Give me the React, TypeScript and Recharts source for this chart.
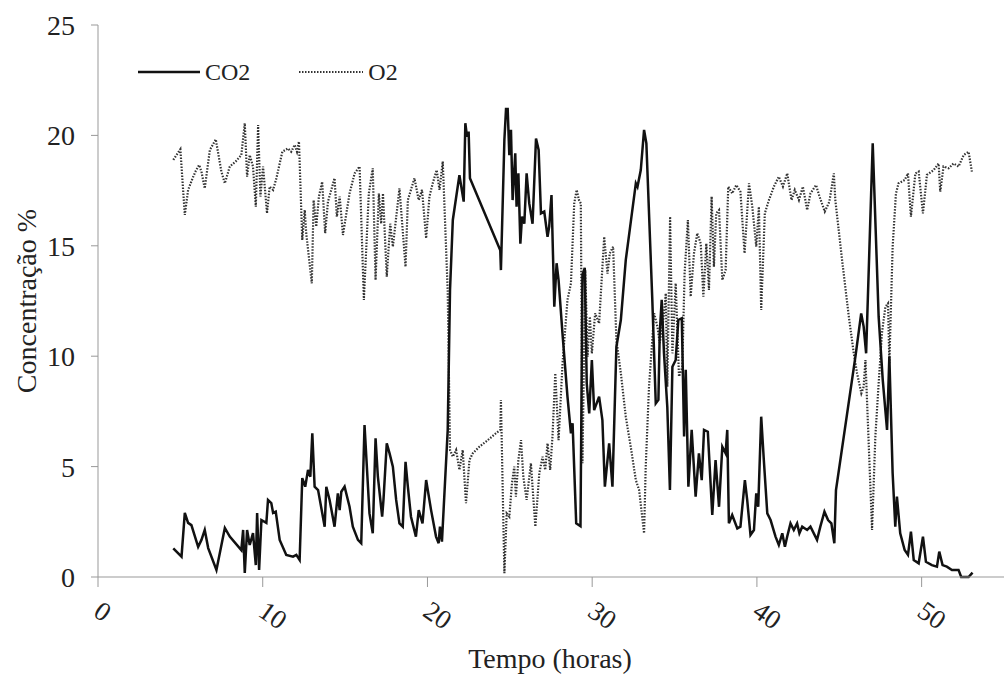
import { LineChart, Line, XAxis, YAxis, Label } from 'recharts';

// hours / % for each gas
const co2Hours = [
  4.57, 5.07, 5.27, 5.47, 5.67, 6.08, 6.28, 6.48, 6.69, 7.19, 7.7, 8.0, 8.7, 8.81, 8.91, 9.05, 9.21, 9.41, 9.58, 9.66,
  9.78, 9.92, 10.22, 10.32, 10.52, 10.63, 10.79, 11.03, 11.43, 11.84, 12.04, 12.24, 12.4, 12.58, 12.75, 12.89, 13.01, 13.15, 13.36, 13.76,
  13.86, 14.06, 14.36, 14.56, 14.67, 14.77, 14.97, 15.27, 15.47, 15.78, 15.98, 16.18, 16.48, 16.68, 16.85, 16.99, 17.25, 17.33, 17.53, 17.7,
  17.9, 18.1, 18.3, 18.5, 18.67, 18.81, 19.0, 19.3, 19.47, 19.7, 19.92, 20.22, 20.52, 20.68, 20.76, 20.88, 21.23, 21.37, 21.54, 21.94,
  22.2, 22.3, 22.4, 22.5, 22.58, 24.42, 24.46, 24.67, 24.77, 24.87, 24.97, 25.07, 25.17, 25.33, 25.41, 25.52, 25.64, 25.74, 25.88, 26.02,
  26.18, 26.38, 26.59, 26.75, 26.89, 27.09, 27.29, 27.39, 27.53, 27.7, 27.84, 27.96, 28.2, 28.5, 28.71, 28.81, 29.03, 29.29, 29.41, 29.55,
  29.67, 29.82, 29.98, 30.12, 30.42, 30.62, 30.77, 31.03, 31.23, 31.47, 31.74, 32.04, 32.28, 32.65, 32.75, 32.95, 33.15, 33.29, 33.65, 33.86,
  34.02, 34.1, 34.22, 34.36, 34.56, 34.72, 34.87, 35.07, 35.23, 35.44, 35.58, 35.68, 35.84, 36.04, 36.28, 36.48, 36.65, 36.79, 37.02, 37.29,
  37.49, 37.7, 37.9, 38.1, 38.2, 38.3, 38.5, 38.81, 39.0, 39.27, 39.41, 39.61, 39.82, 39.96, 40.08, 40.26, 40.42, 40.63, 40.83, 41.13,
  41.33, 41.54, 41.7, 41.84, 42.04, 42.24, 42.44, 42.58, 42.75, 43.05, 43.25, 43.65, 43.85, 44.1, 44.32, 44.52, 44.7, 44.8, 45.98, 46.33,
  46.48, 46.63, 47.03, 47.39, 47.64, 47.9, 48.04, 48.24, 48.4, 48.5, 48.7, 48.97, 49.17, 49.35, 49.52, 49.82, 50.08, 50.26, 50.62, 50.93,
  51.07, 51.27, 51.53, 51.84, 52.24, 52.4, 52.85, 53.09,
];
const co2Values = [
  1.3, 0.92, 2.9, 2.45, 2.35, 1.37, 1.68, 2.13, 1.31, 0.32, 2.22, 1.83, 1.22, 2.13, 0.18, 2.13, 1.45, 1.99, 0.54, 2.9,
  0.32, 2.58, 2.45, 3.49, 3.35, 2.9, 2.96, 1.68, 1.0, 0.92, 1.0, 0.77, 4.48, 4.09, 4.85, 4.54, 6.51, 4.09, 3.94, 2.28,
  4.09, 3.49, 2.28, 3.79, 3.03, 3.86, 4.09, 3.18, 2.28, 1.68, 1.53, 6.88, 2.88, 1.98, 6.28, 4.54, 2.73, 3.49, 6.05, 5.6,
  5.0, 3.49, 2.43, 2.28, 5.22, 4.09, 2.73, 1.83, 3.03, 2.43, 4.39, 3.03, 1.83, 1.53, 2.28, 1.6, 6.66, 13.0, 16.17, 18.2,
  17.0, 20.55, 19.94, 20.17, 18.06, 14.8, 13.9, 19.79, 21.2, 21.2, 19.1, 20.25, 17.07, 19.19, 16.77, 18.28, 15.1, 16.32, 16.0, 18.28,
  16.92, 16.0, 19.86, 19.34, 16.47, 16.55, 15.41, 15.87, 17.3, 12.24, 14.21, 13.45, 11.0, 8.17, 6.51, 6.96, 2.43, 2.3, 13.7, 14.0,
  8.77, 7.41, 9.83, 7.56, 8.17, 7.11, 4.09, 6.05, 4.09, 10.43, 11.64, 14.36, 15.72, 17.83, 17.67, 18.43, 20.25, 19.64, 12.55, 7.86,
  8.02, 11.04, 12.55, 10.13, 7.71, 3.94, 9.52, 9.83, 11.64, 11.72, 6.36, 9.38, 4.09, 6.66, 3.64, 5.6, 4.39, 6.66, 6.58, 2.81,
  5.3, 3.18, 5.9, 5.6, 6.66, 2.43, 2.81, 2.2, 2.28, 4.39, 3.49, 1.9, 2.13, 3.79, 3.18, 7.26, 5.3, 2.88, 2.58, 1.83,
  1.45, 1.98, 1.37, 1.83, 2.43, 2.13, 2.43, 1.98, 2.28, 2.13, 2.28, 1.68, 2.28, 2.96, 2.58, 2.43, 1.53, 3.94, 9.98, 11.94,
  11.34, 10.13, 19.64, 11.79, 8.92, 6.66, 9.98, 4.7, 2.28, 3.64, 1.98, 1.22, 1.0, 2.05, 0.77, 0.62, 1.83, 0.69, 0.54, 0.47,
  1.15, 0.54, 0.47, 0.32, 0.32, 0.0, 0.0, 0.2,
];

const o2Hours = [
  4.57, 5.0, 5.27, 5.47, 5.78, 5.94, 6.14, 6.28, 6.48, 6.79, 7.15, 7.49, 7.7, 8.0, 8.36, 8.7, 8.91, 9.05, 9.21, 9.41,
  9.58, 9.72, 9.86, 10.02, 10.26, 10.42, 10.63, 10.83, 11.19, 11.53, 11.73, 11.94, 12.08, 12.2, 12.4, 12.55, 12.64, 12.98, 13.09, 13.25,
  13.41, 13.61, 13.79, 13.96, 14.36, 14.5, 14.67, 14.87, 15.27, 15.58, 15.88, 16.14, 16.44, 16.68, 16.85, 17.05, 17.19, 17.3, 17.53, 17.74,
  17.9, 18.3, 18.67, 18.81, 19.21, 19.47, 19.67, 19.92, 20.12, 20.32, 20.56, 20.73, 20.93, 21.23, 21.37, 21.54, 21.74, 21.94, 22.14, 22.34,
  22.55, 22.75, 23.15, 23.55, 24.16, 24.42, 24.46, 24.67, 24.81, 24.97, 25.13, 25.27, 25.37, 25.52, 25.68, 25.82, 26.02, 26.28, 26.55, 26.79,
  26.99, 27.15, 27.29, 27.45, 27.59, 27.76, 27.96, 28.2, 28.5, 28.71, 28.91, 29.06, 29.2, 29.31, 29.41, 29.58, 29.72, 29.86, 29.98, 30.18,
  30.42, 30.73, 30.93, 31.07, 31.27, 31.47, 31.74, 32.04, 32.34, 32.65, 32.85, 33.15, 33.25, 33.45, 33.76, 33.96, 34.1, 34.3, 34.47, 34.56,
  34.73, 34.87, 35.07, 35.27, 35.47, 35.61, 35.81, 35.98, 36.18, 36.38, 36.59, 36.75, 36.93, 37.09, 37.25, 37.39, 37.53, 37.7, 37.9, 38.1,
  38.26, 38.5, 38.75, 39.0, 39.25, 39.52, 39.72, 39.96, 40.12, 40.26, 40.48, 40.73, 41.03, 41.33, 41.58, 41.84, 42.1, 42.3, 42.55, 42.79,
  43.05, 43.25, 43.59, 43.8, 44.12, 44.4, 44.67, 44.76, 45.17, 45.58, 45.88, 46.08, 46.34, 46.48, 46.59, 46.99, 47.19, 47.39, 47.59, 47.8,
  47.96, 48.04, 48.24, 48.44, 48.6, 48.97, 49.17, 49.35, 49.62, 49.82, 50.08, 50.32, 50.73, 51.03, 51.13, 51.33, 51.64, 51.94, 52.24, 52.55,
  52.85, 53.05,
];
const o2Values = [
  18.89, 19.37, 16.4, 17.53, 18.13, 18.4, 18.66, 18.36, 17.6, 19.34, 19.82, 18.36, 17.83, 18.59, 18.82, 19.11, 20.55, 18.13, 19.11, 18.59,
  16.77, 20.47, 17.23, 18.59, 16.47, 17.68, 17.53, 18.06, 19.26, 19.41, 19.26, 19.57, 19.26, 19.72, 15.26, 16.62, 15.57, 13.3, 17.07, 15.87,
  17.23, 17.9, 15.57, 17.0, 18.06, 16.32, 17.23, 15.49, 17.37, 18.28, 18.59, 12.55, 17.37, 18.51, 13.45, 17.37, 16.0, 17.37, 13.6, 16.0,
  14.96, 17.6, 14.05, 17.07, 18.06, 17.07, 17.53, 15.34, 17.23, 17.83, 18.43, 17.53, 18.82, 12.94, 5.75, 5.45, 5.75, 4.85, 5.75, 3.34,
  5.3, 5.6, 5.9, 6.13, 6.51, 6.66, 8.02, 0.17, 2.88, 2.73, 4.24, 5.0, 3.64, 5.3, 6.2, 4.54, 3.49, 5.15, 2.28, 4.7,
  5.45, 4.85, 6.05, 4.85, 6.36, 9.23, 6.2, 9.68, 12.55, 13.3, 16.92, 17.53, 17.07, 16.92, 5.15, 13.9, 9.98, 11.79, 10.13, 11.94,
  11.49, 15.41, 13.74, 14.66, 14.96, 10.73, 9.23, 7.26, 5.9, 4.39, 3.94, 1.98, 5.0, 8.62, 11.94, 11.34, 10.6, 11.5, 12.85, 8.62,
  16.32, 10.13, 13.3, 9.08, 9.5, 13.74, 16.17, 12.7, 14.66, 15.57, 15.1, 12.7, 15.1, 13.0, 17.23, 14.05, 16.47, 16.62, 13.45, 13.9,
  17.68, 17.37, 17.75, 17.45, 14.66, 17.83, 16.77, 14.96, 16.77, 12.09, 16.47, 17.07, 17.68, 18.13, 17.68, 18.28, 17.07, 17.53, 17.07, 17.68,
  16.62, 17.37, 17.75, 17.23, 16.55, 17.0, 18.28, 17.07, 14.36, 11.79, 10.13, 9.23, 8.32, 8.62, 9.83, 2.13, 6.36, 8.77, 11.04, 12.24,
  12.39, 9.68, 14.96, 17.37, 17.83, 17.98, 18.28, 16.32, 18.28, 18.36, 16.47, 18.21, 18.43, 18.73, 17.45, 18.59, 18.51, 18.73, 18.59, 19.11,
  19.26, 18.36,
];

const xTicks = [0, 10, 20, 30, 40, 50];
const yTicks = [0, 5, 10, 15, 20, 25];

const co2Data = co2Hours.map((x, i) => ({ x, y: co2Values[i] }));
const o2Data = o2Hours.map((x, i) => ({ x, y: o2Values[i] }));

const FONT = '"Liberation Serif", "Times New Roman", serif';

const XTick = (props: any) => {
  const { x, y, payload } = props;
  const px = x - 6;
  const py = y + 26;
  return (
    <text x={px} y={py} transform={`rotate(35 ${px} ${py})`} textAnchor="start"
      fontFamily={FONT} fontSize={27} fill="#222">
      {payload.value}
    </text>
  );
};

// legend sits inside the plot, top left
const LegendBox = () => (
  <div style={{ position: 'absolute', left: 137, top: 58, display: 'flex', alignItems: 'center',
    fontFamily: FONT, fontSize: 24, color: '#222', lineHeight: '28px' }}>
    <svg width={64} height={10}>
      <line x1={1} y1={5} x2={63} y2={5} stroke="#111" strokeWidth={2.5} />
    </svg>
    <span style={{ marginLeft: 4 }}>CO2</span>
    <svg width={66} height={10} style={{ marginLeft: 48 }}>
      <line x1={1} y1={5} x2={65} y2={5} stroke="#333" strokeWidth={2.2} strokeDasharray="1.5 1.5" />
    </svg>
    <span style={{ marginLeft: 4 }}>O2</span>
  </div>
);

export default function App() {
  return (
    <div style={{ position: 'absolute', left: 0, top: 0, width: 1004, height: 680, background: '#fff' }}>
      <LineChart width={1004} height={680} margin={{ top: 25, right: 0, bottom: 0, left: 0 }}>
        <XAxis type="number" dataKey="x" domain={[0, 55]} ticks={xTicks} allowDataOverflow
          height={103} stroke="#999" tickSize={10} tick={<XTick />}>
          <Label content={() => (
            <text x={550} y={668} textAnchor="middle" fontFamily={FONT} fontSize={28} fill="#222">
              Tempo (horas)
            </text>
          )} />
        </XAxis>
        <YAxis type="number" domain={[0, 25]} ticks={yTicks} width={98} stroke="#999"
          tickSize={7} tickMargin={16} tick={{ fontFamily: FONT, fontSize: 28, fill: '#222' }}>
          <Label content={() => (
            <text x={36} y={301} transform="rotate(-90 36 301)" textAnchor="middle"
              fontFamily={FONT} fontSize={28} fill="#222">
              Concentração %
            </text>
          )} />
        </YAxis>
        <Line data={o2Data} dataKey="y" type="linear" dot={false} stroke="#333" strokeWidth={2.2}
          strokeDasharray="1.5 1.5" isAnimationActive={false} />
        <Line data={co2Data} dataKey="y" type="linear" dot={false} stroke="#111" strokeWidth={2.5}
          isAnimationActive={false} />
      </LineChart>
      <LegendBox />
    </div>
  );
}
